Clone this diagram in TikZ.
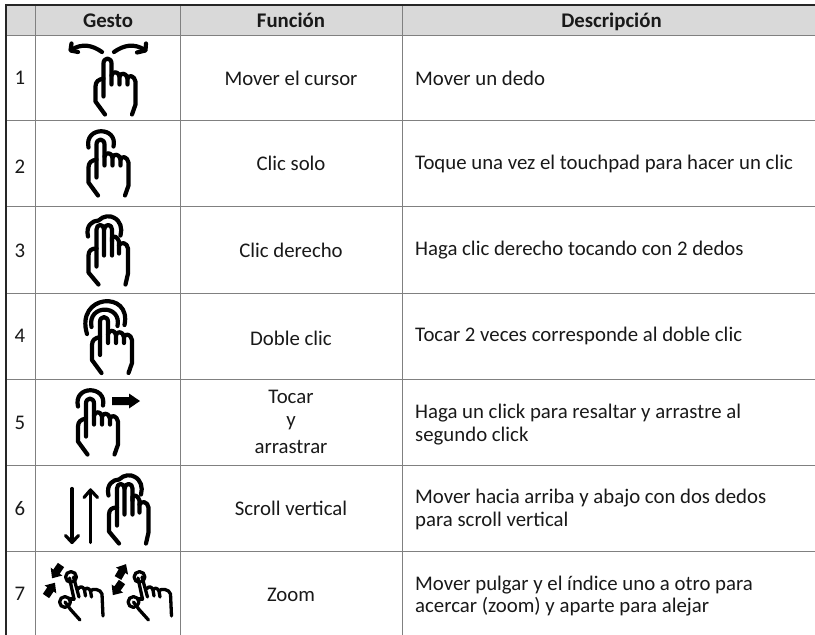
\documentclass[tikz,border=0pt]{standalone}
\usepackage{fontspec}
\setmainfont{Carlito}
\tikzset{
  x=1pt,y=-1pt,
  cell/.style={inner sep=0pt,font=\fontsize{20.8}{25}\selectfont,text=black!90},
  head/.style={cell,anchor=base,font=\fontsize{20.8}{25}\selectfont\bfseries},
  lft/.style={cell,anchor=west},
  grid/.style={draw=black!50,line width=1pt},
  frame/.style={draw=black!85,line width=2.2pt},
  ink/.style={draw=black,line width=4.2pt,line cap=round,line join=round,fill=none},
  slim ink/.style={draw=black,line width=3.2pt,line cap=round,line join=round,fill=none},
  thin ink/.style={draw=black,line width=3.3pt,line cap=round,line join=round,fill=none},
  solid head/.style={fill=black,draw=none},
  onehand/.pic={
    \draw[ink] (-4,38) -- (-4,5) .. controls (-4,-1.5) and (4,-1.5) .. (4,5) -- (4,26);
    \draw[ink] (4,17) .. controls (5,12.5) and (11,12.5) .. (12,18) -- (12,26);
    \draw[ink] (12,18) .. controls (13,14) and (19,14) .. (20,20) -- (20,26);
    \draw[ink] (20,20) .. controls (21,16) and (27,17) .. (28,23) -- (28,46) -- (24.5,56);
    \draw[ink] (-4,20) .. controls (-9,21) and (-12,23) .. (-12,28) -- (-12,43) -- (-2.5,56);
  },
  twohand/.pic={
    \draw[ink] (-4,43) -- (-4,6) .. controls (-4,0) and (3.5,0) .. (3.5,6) -- (3.5,32);
    \draw[ink] (3.5,6) .. controls (4,0) and (11.5,0) .. (11.5,6) -- (11.5,32);
    \draw[ink] (11.5,18) -- (11.5,14) .. controls (13,12) and (17,13) .. (18.5,18) -- (18.5,30);
    \draw[ink] (18.5,22) .. controls (20,18) and (27,19) .. (27.5,25) -- (27.5,50) -- (25,61);
    \draw[ink] (-4,25) .. controls (-9,25) and (-12,27) .. (-12,32) -- (-12,49) -- (-2,61);
    \draw[ink] (-12.5,13) .. controls (-15,2) and (-8,-3) .. (-2,-3) .. controls (3,-8) and (10,-8) .. (13,-6) .. controls (20,-3) and (22,5) .. (20,12);
  },
  smallhand/.pic={
    \draw[thin ink] (0,0) circle[radius=5.4];
    \draw[white,line width=6pt] (3,6) -- (4,9);
    \draw[thin ink] (-1.5,1) -- (3,22);
    \draw[thin ink] (2.5,0) -- (8,20);
    \draw[thin ink] (7,12) .. controls (9,9) and (12,9) .. (13.5,13) -- (14.5,19);
    \draw[thin ink] (13.5,13) .. controls (15,10) and (18,11) .. (19.5,14) -- (20.5,20);
    \draw[thin ink] (19.5,14) .. controls (21,11) and (30,12) .. (31,17) -- (32,39);
    \draw[thin ink] (-6,25) circle[radius=5.4];
    \draw[white,line width=6pt] (-2,30) -- (0,33);
    \draw[thin ink] (-6,25) -- (0,33) -- (9,43);
    \draw[thin ink] (-1,22) -- (3,22);
  },
  blockarrow/.pic={
    \fill[solid head] (0,-3.8) -- (8,-3.8) -- (8,-7) -- (16,0) -- (8,7) -- (8,3.8) -- (0,3.8) -- cycle;
  },
  widearrow/.pic={
    \fill[solid head] (0,-4) -- (17,-4) -- (17,-7.5) -- (28,0) -- (17,7.5) -- (17,4) -- (0,4) -- cycle;
  },
}
\begin{document}
\begin{tikzpicture}
\useasboundingbox (0,0) rectangle (815,635);
\fill[white] (0,0) rectangle (815,635);
\fill[black!15] (6,5) rectangle (815,35);
% grid
\foreach \yy in {35,120.5,206.7,293.3,379,465,551.7}
  \draw[grid] (6,\yy) -- (815,\yy);
\foreach \xx in {35.7,180.3,402.3}
  \draw[grid] (\xx,5) -- (\xx,635);
\draw[frame] (815,5) -- (6,5) -- (6,635);
% header
\node[head] (h1) at (108,27) {Gesto};
\node[head] (h2) at (291,27) {Función};
\node[head] (h3) at (611.5,27) {Descripción};
% row numbers
\node[cell] (n1) at (20,77.5) {1};
\node[cell] (n2) at (20,167) {2};
\node[cell] (n3) at (20,251) {3};
\node[cell] (n4) at (20,336) {4};
\node[cell] (n5) at (20,423) {5};
\node[cell] (n6) at (20,509) {6};
\node[cell] (n7) at (20,594) {7};
% function
\node[cell] (f1) at (291,78) {Mover el cursor};
\node[cell] (f2) at (291,163.5) {Clic solo};
\node[cell] (f3) at (291,250) {Clic derecho};
\node[cell] (f4) at (291,338) {Doble clic};
\node[cell] (f5a) at (291,397) {Tocar};
\node[cell] (f5b) at (291,423) {y};
\node[cell] (f5c) at (291,447) {arrastrar};
\node[cell] (f6) at (291,508.5) {Scroll vertical};
\node[cell] (f7) at (291,594.5) {Zoom};
% description
\node[lft] (d1) at (415,78) {Mover un dedo};
\node[lft] (d2) at (415,163.5) {Toque una vez el touchpad para hacer un clic};
\node[lft] (d3) at (415,250) {Haga clic derecho tocando con 2 dedos};
\node[lft] (d4) at (415,336) {Tocar 2 veces corresponde al doble clic};
\node[lft] (d5a) at (415,413) {Haga un click para resaltar y arrastre al};
\node[lft] (d5b) at (415,436) {segundo click};
\node[lft] (d6a) at (415,498) {Mover hacia arriba y abajo con dos dedos};
\node[lft] (d6b) at (415,521) {para scroll vertical};
\node[lft] (d7a) at (415,585) {Mover pulgar y el índice uno a otro para};
\node[lft] (d7b) at (415,607) {acercar (zoom) y aparte para alejar};
% gesture 1
\pic at (107.5,58.5) {onehand};
\draw[ink] (102,52) .. controls (92,45) and (82,43) .. (71,50);
\draw[ink] (71.5,43.5) -- (70.5,50.5) -- (78,52);
\draw[ink] (114,52) .. controls (124,45) and (134,43) .. (145,50);
\draw[ink] (146,43.5) -- (145.5,50.5) -- (137,52.5);
% gesture 2
\pic at (100.5,139.5) {onehand};
\draw[ink] (88.5,147.5) .. controls (84,126) and (118,126) .. (113.5,146.5);
% gesture 3
\pic at (100.5,223.5) {twohand};
% gesture 4
\pic at (104,317) {onehand};
\draw[ink] (91.5,327) .. controls (87,304) and (122,304) .. (117.5,326);
\draw[ink] (87,334) .. controls (75,294) and (132,290) .. (124.5,325);
% gesture 5
\pic at (90,398.5) {onehand};
\draw[ink] (78,406.5) .. controls (73,385) and (107,385) .. (103,405.5);
\pic at (112,401) {widearrow};
% gesture 6
\draw[slim ink] (72,488.5) -- (72,542);
\draw[slim ink] (65.5,535.5) -- (72,542.5) -- (78.5,535.5);
\draw[slim ink] (90.5,542.5) -- (90.5,490);
\draw[slim ink] (84,497.5) -- (90.5,490) -- (97.5,497.5);
\pic at (121,482.5) {twohand};
% gesture 7
\pic at (71,577) {smallhand};
\pic at (139.5,577) {smallhand};
\pic[rotate=-124] at (61,565) {blockarrow};
\pic[rotate=56] at (46,596) {blockarrow};
\pic[rotate=60] at (118,578) {blockarrow};
\pic[rotate=-125] at (122,582) {blockarrow};
\end{tikzpicture}
\end{document}
